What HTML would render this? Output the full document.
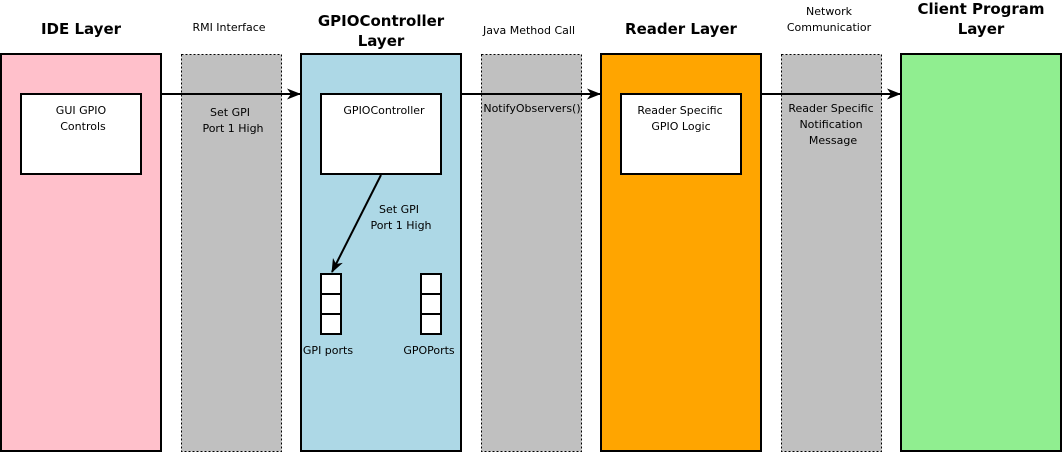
<!DOCTYPE html>
<html><head><meta charset="utf-8"><style>
html,body{margin:0;padding:0;background:#fff;}
svg{display:block;}
text{font-family:"DejaVu Sans","Liberation Sans",sans-serif;fill:#000;}
.s{font-size:11px;}
.h{font-size:15px;font-weight:bold;}
</style></head><body>
<svg width="1063" height="456" viewBox="0 0 1063 456" xmlns="http://www.w3.org/2000/svg">
<defs>
<marker id="a" markerWidth="14" markerHeight="11" refX="13" refY="5.5" orient="auto" markerUnits="userSpaceOnUse">
<path d="M0,0 L14,5.5 L0,11 L4,5.5 Z" fill="#000"/>
</marker>
</defs>
<rect x="1" y="54" width="160" height="397" fill="#ffc0cb" stroke="#000" stroke-width="2"/>
<rect x="181.5" y="54.5" width="100" height="397" fill="#c0c0c0" stroke="#000" stroke-width="1" stroke-dasharray="2,2"/>
<rect x="301" y="54" width="160" height="397" fill="#add8e6" stroke="#000" stroke-width="2"/>
<rect x="481.5" y="54.5" width="100" height="397" fill="#c0c0c0" stroke="#000" stroke-width="1" stroke-dasharray="2,2"/>
<rect x="601" y="54" width="160" height="397" fill="#ffa500" stroke="#000" stroke-width="2"/>
<rect x="781.5" y="54.5" width="100" height="397" fill="#c0c0c0" stroke="#000" stroke-width="1" stroke-dasharray="2,2"/>
<rect x="901" y="54" width="160" height="397" fill="#90ee90" stroke="#000" stroke-width="2"/>
<rect x="21" y="94" width="120" height="80" fill="#fff" stroke="#000" stroke-width="2"/>
<rect x="321" y="94" width="120" height="80" fill="#fff" stroke="#000" stroke-width="2"/>
<rect x="621" y="94" width="120" height="80" fill="#fff" stroke="#000" stroke-width="2"/>
<g fill="#fff" stroke="#000" stroke-width="2">
<rect x="321" y="274" width="20" height="20"/><rect x="321" y="294" width="20" height="20"/><rect x="321" y="314" width="20" height="20"/>
<rect x="421" y="274" width="20" height="20"/><rect x="421" y="294" width="20" height="20"/><rect x="421" y="314" width="20" height="20"/>
</g>
<g stroke="#000" stroke-width="2" fill="none">
<line x1="161" y1="94" x2="300" y2="94" marker-end="url(#a)"/>
<line x1="461" y1="94" x2="600" y2="94" marker-end="url(#a)"/>
<line x1="761" y1="94" x2="900" y2="94" marker-end="url(#a)"/>
<line x1="381" y1="175" x2="332" y2="272" marker-end="url(#a)"/>
</g>
<text class="h" x="81" y="34" text-anchor="middle">IDE Layer</text>
<text class="h" x="381" y="26" text-anchor="middle">GPIOController</text>
<text class="h" x="381" y="46" text-anchor="middle">Layer</text>
<text class="h" x="681" y="34" text-anchor="middle">Reader Layer</text>
<text class="h" x="981" y="14" text-anchor="middle">Client Program</text>
<text class="h" x="981" y="34" text-anchor="middle">Layer</text>
<text class="s" x="229" y="31" text-anchor="middle">RMI Interface</text>
<text class="s" x="529" y="34" text-anchor="middle">Java Method Call</text>
<text class="s" x="829" y="15" text-anchor="middle">Network</text>
<text class="s" x="829" y="31" text-anchor="middle">Communicatior</text>
<text class="s" x="81" y="114" text-anchor="middle">GUI GPIO</text>
<text class="s" x="83" y="130" text-anchor="middle">Controls</text>
<text class="s" x="384" y="114" text-anchor="middle">GPIOController</text>
<text class="s" x="680" y="114" text-anchor="middle">Reader Specific</text>
<text class="s" x="681" y="130" text-anchor="middle">GPIO Logic</text>
<text class="s" x="230" y="116" text-anchor="middle">Set GPI</text>
<text class="s" x="233" y="132" text-anchor="middle">Port 1 High</text>
<text class="s" x="532" y="112" text-anchor="middle">NotifyObservers()</text>
<text class="s" x="831" y="112" text-anchor="middle">Reader Specific</text>
<text class="s" x="831" y="128" text-anchor="middle">Notification</text>
<text class="s" x="833" y="144" text-anchor="middle">Message</text>
<text class="s" x="399" y="213" text-anchor="middle">Set GPI</text>
<text class="s" x="401" y="229" text-anchor="middle">Port 1 High</text>
<text class="s" x="328" y="354" text-anchor="middle">GPI ports</text>
<text class="s" x="429" y="354" text-anchor="middle">GPOPorts</text>
</svg>
</body></html>
